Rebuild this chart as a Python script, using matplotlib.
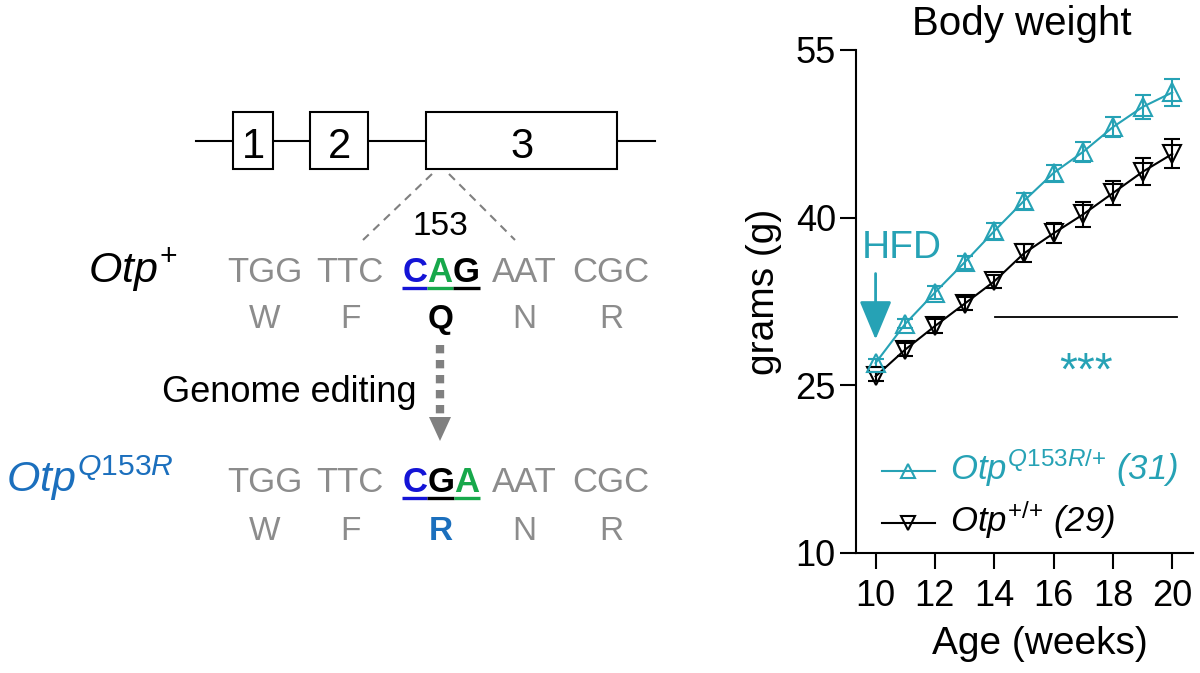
import matplotlib.pyplot as plt
from matplotlib.patches import Rectangle, Polygon

plt.rcParams['font.family'] = ['Liberation Sans', 'DejaVu Sans']
plt.rcParams['mathtext.fontset'] = 'custom'
plt.rcParams['mathtext.rm'] = 'Liberation Sans'
plt.rcParams['mathtext.it'] = 'Liberation Sans:italic'
plt.rcParams['mathtext.bf'] = 'Liberation Sans:bold'

# ---- data ----
weeks = [10, 11, 12, 13, 14, 15, 16, 17, 18, 19, 20]
mut_mean = [27.0, 30.5, 33.3, 36.0, 38.8, 41.5, 44.0, 45.9, 48.1, 49.9, 51.2]
mut_sem = [0.4, 0.4, 0.6, 0.6, 0.7, 0.7, 0.7, 0.9, 0.9, 1.1, 1.2]
wt_mean = [25.8, 28.2, 30.3, 32.3, 34.3, 36.8, 38.6, 40.3, 42.2, 44.1, 45.7]
wt_sem = [0.4, 0.6, 0.6, 0.6, 0.6, 0.8, 0.9, 1.1, 1.1, 1.2, 1.3]
mut_label = r'$\mathit{Otp}^{\mathit{Q153R/{+}}}$ (31)'
wt_label = r'$\mathit{Otp}^{\mathit{{+}/{+}}}$ (29)'
sig_range = [14.04, 20.17]
sig_level = 31.1

exon_labels = ['1', '2', '3']
codons_wt = ['TGG', 'TTC', 'CAG', 'AAT', 'CGC']
codons_mut = ['TGG', 'TTC', 'CGA', 'AAT', 'CGC']
aminos_wt = ['W', 'F', 'Q', 'N', 'R']
aminos_mut = ['W', 'F', 'R', 'N', 'R']
edited = 2  # index of codon 153

CYAN = '#26a2b5'
LBLUE = '#1b6fbd'
GRAY = '#8c8c8c'
NBLUE = '#1414d6'
NGREEN = '#17a84b'
nuc_cols_wt = [NBLUE, NGREEN, 'black']
nuc_cols_mut = [NBLUE, 'black', NGREEN]

fig = plt.figure(figsize=(12, 6.73), dpi=100)

# ---- left schematic, drawn in pixel coordinates ----
ax0 = fig.add_axes([0, 0, 1, 1])
ax0.set_xlim(0, 1200)
ax0.set_ylim(673, 0)
ax0.axis('off')

ax0.plot([196, 655], [141, 141], color='black', lw=1.5, zorder=1)
exon_x = [(233, 273), (310, 368), (426, 617)]
for (x0, x1), lab in zip(exon_x, exon_labels):
    ax0.add_patch(Rectangle((x0, 112), x1 - x0, 57, facecolor='white',
                            edgecolor='black', lw=1.5, zorder=2))
    ax0.text((x0 + x1) / 2, 158, lab, ha='center', va='baseline', fontsize=30, zorder=3)

ax0.plot([432, 363], [174, 240], color='#808080', lw=1.5, dashes=(4, 3))
ax0.plot([449, 515], [174, 240], color='#808080', lw=1.5, dashes=(4, 3))
ax0.text(440, 235, '153', ha='center', va='baseline', fontsize=24)

ax0.text(88, 282, r'$\mathit{Otp}^{+}$', ha='left', va='baseline', fontsize=31)
ax0.text(6, 492, r'$\mathit{Otp}^{\mathit{Q153R}}$', ha='left', va='baseline',
         fontsize=31, color=LBLUE)

codon_x = [265, 350, 441, 524, 611]
renderer = fig.canvas.get_renderer()


def codon_row(codons, aminos, nuc_cols, aa_col, base, aa_base):
    for i, (cod, aa) in enumerate(zip(codons, aminos)):
        if i != edited:
            ax0.text(codon_x[i], base, cod, ha='center', va='baseline',
                     fontsize=25, color=GRAY)
            ax0.text(codon_x[i], aa_base, aa, ha='center', va='baseline',
                     fontsize=24, color=GRAY)
            continue
        # coloured bold codon, letters chained left to right
        tmp = [ax0.text(0, base, ch, fontsize=25, fontweight='bold') for ch in cod]
        widths = [t.get_window_extent(renderer).width for t in tmp]
        for t in tmp:
            t.remove()
        x = codon_x[i] - sum(widths) / 2
        for ch, w, c in zip(cod, widths, nuc_cols):
            ax0.text(x, base, ch, ha='left', va='baseline', fontsize=25,
                     fontweight='bold', color=c)
            ax0.plot([x, x + w], [base + 6, base + 6], color=c, lw=2.4,
                     solid_capstyle='butt')
            x += w
        ax0.text(codon_x[i], aa_base, aa, ha='center', va='baseline',
                 fontsize=24, fontweight='bold', color=aa_col)


codon_row(codons_wt, aminos_wt, nuc_cols_wt, 'black', 282, 328)
codon_row(codons_mut, aminos_mut, nuc_cols_mut, LBLUE, 492, 540)

# dotted arrow for genome editing
ax0.plot([440, 440], [345, 416], color='#808080', lw=6, dashes=(1, 0.8),
         solid_capstyle='butt', dash_capstyle='butt')
ax0.add_patch(Polygon([(429, 417), (451, 417), (440, 441)], closed=True,
                      facecolor='#808080', edgecolor='none'))
ax0.text(289, 402, 'Genome editing', ha='center', va='baseline', fontsize=26)

# legend for the chart
for y, lab, col, mk in [(471, mut_label, CYAN, '^'), (523, wt_label, 'black', 'v')]:
    ax0.plot([882, 935], [y, y], color=col, lw=1.5)
    ax0.plot([908], [y], marker=mk, ms=10, mfc='none', mec=col, mew=1.5)
    ax0.text(950, y + 9, lab, ha='left', va='baseline', fontsize=25,
             style='italic', color=col)

# ---- body weight chart ----
ax = fig.add_axes([856 / 1200, 1 - 553 / 673, 337 / 1200, 503 / 673])
ax.set_facecolor('none')
ax.errorbar(weeks, wt_mean, yerr=wt_sem, color='black', marker='v', ms=13,
            mfc='none', mew=1.5, lw=1.5, capsize=6, capthick=1.5, elinewidth=1.5)
ax.errorbar(weeks, mut_mean, yerr=mut_sem, color=CYAN, marker='^', ms=13,
            mfc='none', mew=1.5, lw=1.5, capsize=6, capthick=1.5, elinewidth=1.5)

ax.set_xlim(9.34, 20.7)
ax.set_ylim(10, 55)
ax.set_xticks([10, 12, 14, 16, 18, 20])
ax.set_yticks([10, 25, 40, 55])
for s in ['top', 'right']:
    ax.spines[s].set_visible(False)
for s in ['left', 'bottom']:
    ax.spines[s].set_linewidth(1.5)
ax.tick_params(axis='both', direction='out', length=11.5, width=1.5, labelsize=26)
ax.tick_params(axis='y', pad=3)
ax.tick_params(axis='x', pad=7)

ax.set_ylabel('grams (g)', fontsize=28)
ax.yaxis.set_label_coords(-0.22, 0.52)
ax.set_xlabel('Age (weeks)', fontsize=28, va='top')
ax.xaxis.set_label_coords(0.546, -0.145)

ax.plot(sig_range, [sig_level, sig_level], color='black', lw=1.3)
ax.text(17.11, 25.1, '***', ha='center', va='baseline', fontsize=33, color=CYAN)

ax.annotate('', xy=(10, 29.1), xytext=(10, 35.0),
            arrowprops=dict(arrowstyle='-|>,head_length=1.2,head_width=0.5',
                            color=CYAN, lw=2, mutation_scale=20,
                            shrinkA=0, shrinkB=0))
ax.text(10.89, 36.4, 'HFD', ha='center', va='baseline', fontsize=28, color=CYAN)

fig.text(1022 / 1200, 1 - 35 / 673, 'Body weight', ha='center', va='baseline',
         fontsize=29)

fig.savefig('out.png', dpi=100)
